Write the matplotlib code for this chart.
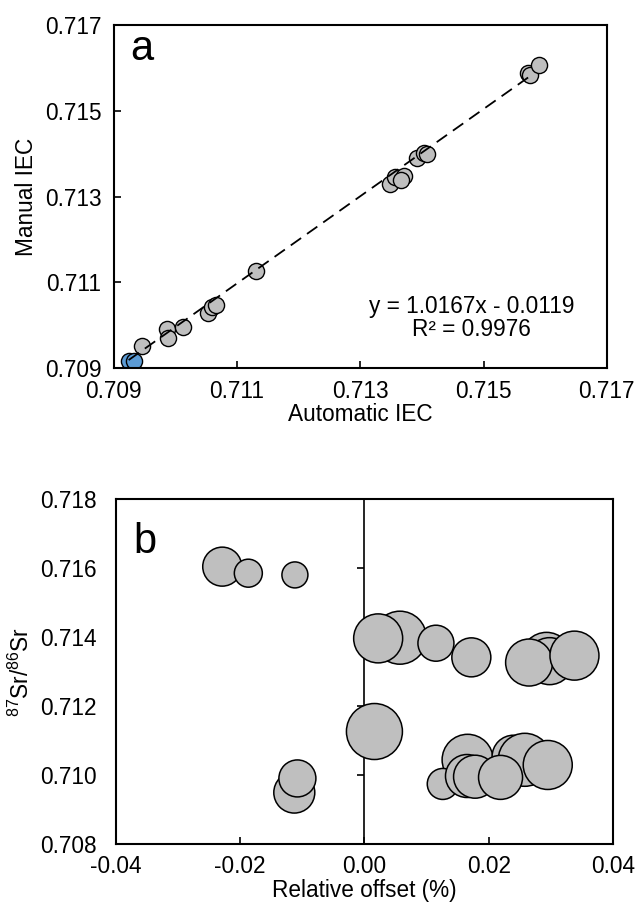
import numpy as np
import matplotlib
matplotlib.use("Agg")
import matplotlib.pyplot as plt
from matplotlib.ticker import FormatStrFormatter, MultipleLocator

plt.rcParams['font.family'] = ['Liberation Sans', 'DejaVu Sans']
plt.rcParams['axes.unicode_minus'] = False
plt.rcParams['mathtext.default'] = 'regular'

# panel a: automatic vs manual IEC
auto_blue = [0.70924, 0.70932]
manual_blue = [0.70916, 0.70916]
auto_grey = [0.70945, 0.70986, 0.70988, 0.71012, 0.71053, 0.71059, 0.71066, 0.71131,
             0.71348, 0.71356, 0.71371, 0.71366, 0.71392, 0.71403, 0.71408,
             0.71572, 0.71575, 0.71590]
manual_grey = [0.70951, 0.70991, 0.70970, 0.70996, 0.71028, 0.71042, 0.71047, 0.71126,
               0.71329, 0.71345, 0.71348, 0.71338, 0.71390, 0.71401, 0.71398,
               0.71588, 0.71583, 0.71606]
slope, intercept = 1.0167, -0.0119
fit_x = [0.70924, 0.71580]
a_ticks = [0.709, 0.711, 0.713, 0.715, 0.717]

# panel b: relative offset vs 87Sr/86Sr, bubble diameter (px)
offset = [-0.0229, -0.0187, -0.0112, -0.0113, -0.0108, 0.0016, 0.0057, 0.0022,
          0.0115, 0.0172, 0.0293, 0.0298, 0.0265, 0.0338,
          0.0166, 0.0126, 0.0240, 0.0258, 0.0165, 0.0178, 0.0219, 0.0295]
ratio = [0.71604, 0.71585, 0.71580, 0.70949, 0.70990, 0.71126, 0.71398, 0.71396,
         0.71382, 0.71341, 0.71341, 0.71330, 0.71326, 0.71346,
         0.71044, 0.70974, 0.71053, 0.71044, 0.70997, 0.70995, 0.70993, 0.71029]
diam = [39, 28, 26, 41, 37, 56, 53, 49,
        36, 39, 50, 47, 47, 49,
        51, 31, 43, 53, 43, 43, 44, 49]

fig = plt.figure(figsize=(6.36, 9.07), dpi=100)
FS = 16.3

# ---------- a ----------
ax = fig.add_axes([0.179, 0.5943, 0.775, 0.3781])
ax.scatter(auto_grey, manual_grey, s=135, c='#bfbfbf', edgecolors='black', linewidths=1.0, zorder=2)
ax.scatter(auto_blue, manual_blue, s=135, c='#5b9bd5', edgecolors='black', linewidths=1.0, zorder=2)
fx = np.array(fit_x)
ax.plot(fx, slope*fx + intercept, color='black', lw=1.3, ls=(0, (7, 4)), zorder=3)
ax.set_xlim(0.709, 0.717)
ax.set_ylim(0.709, 0.717)
ax.set_xticks(a_ticks)
ax.set_yticks(a_ticks)
ax.xaxis.set_major_formatter(FormatStrFormatter('%.3f'))
ax.yaxis.set_major_formatter(FormatStrFormatter('%.3f'))
ax.tick_params(direction='in', length=5, width=1.2, labelsize=FS)
ax.tick_params(axis='y', pad=9)
ax.tick_params(axis='x', pad=9)
ax.set_xlabel('Automatic IEC', fontsize=FS, labelpad=0)
ax.set_ylabel('Manual IEC', fontsize=FS, labelpad=5)
for sp in ax.spines.values():
    sp.set_linewidth(1.5)
ax.text(0.726, 0.178, 'y = 1.0167x - 0.0119', transform=ax.transAxes, ha='center', va='center', fontsize=FS)
ax.text(0.726, 0.111, 'R² = 0.9976', transform=ax.transAxes, ha='center', va='center', fontsize=FS)
ax.text(0.034, 0.898, 'a', transform=ax.transAxes, fontsize=30, va='baseline')

# ---------- b ----------
bx = fig.add_axes([0.1824, 0.0695, 0.7814, 0.3803])
bx.patch.set_alpha(0)
sizes = (np.array(diam)*0.72)**2
bx.scatter(offset, ratio, s=sizes, c='#bfbfbf', edgecolors='black', linewidths=1.1, zorder=2)
bx.set_xlim(-0.04, 0.04)
bx.set_ylim(0.708, 0.718)
bx.xaxis.set_major_locator(MultipleLocator(0.02))
bx.yaxis.set_major_locator(MultipleLocator(0.002))
bx.xaxis.set_major_formatter(FormatStrFormatter('%.2f'))
bx.yaxis.set_major_formatter(FormatStrFormatter('%.3f'))
bx.tick_params(direction='in', length=5, width=1.2, labelsize=FS)
bx.tick_params(axis='y', length=0, pad=14)
bx.tick_params(axis='x', pad=8)
bx.set_xlabel('Relative offset (%)', fontsize=FS, labelpad=1)
bx.set_ylabel('$^{87}$Sr/$^{86}$Sr', fontsize=FS, labelpad=4)
for sp in bx.spines.values():
    sp.set_linewidth(1.5)
zero_axis = bx.secondary_yaxis(0, transform=bx.transData)
zero_axis.set_zorder(0.5)
zero_axis.yaxis.set_major_locator(MultipleLocator(0.002))
zero_axis.tick_params(direction='out', length=5, width=1.2, labelright=False, labelleft=False)
for sp in zero_axis.spines.values():
    sp.set_linewidth(1.2)
bx.text(0.034, 0.843, 'b', transform=bx.transAxes, fontsize=30, va='baseline')

fig.savefig('out.png', dpi=100, facecolor='white')
